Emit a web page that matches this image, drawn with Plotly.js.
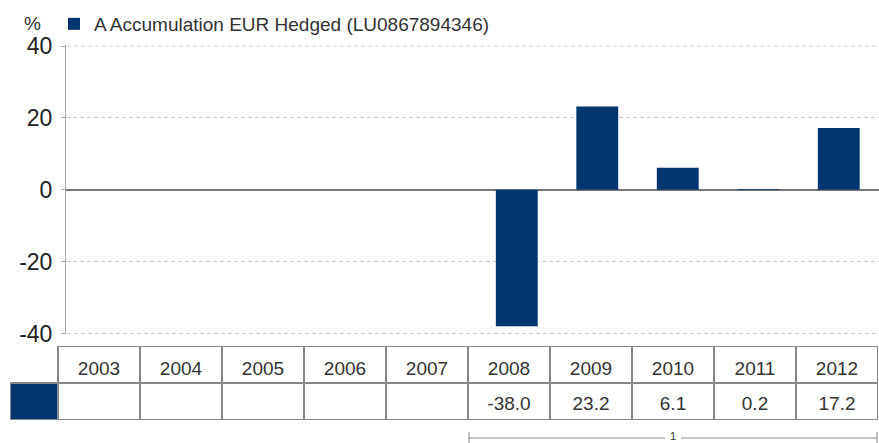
<!DOCTYPE html>
<html>
<head>
<meta charset="utf-8">
<script src="https://cdn.plot.ly/plotly-3.0.1.min.js"></script>
<style>html,body{margin:0;padding:0;background:#fff;}#chart{width:879px;height:443px;}</style>
</head>
<body>
<div id="chart"></div>
<script>
// ---- data ----
const years = ['2003','2004','2005','2006','2007','2008','2009','2010','2011','2012'];
const returns = [null, null, null, null, null, -38.0, 23.2, 6.1, 0.2, 17.2];
const seriesName = 'A Accumulation EUR Hedged (LU0867894346)';
const yTicks = [-40, -20, 0, 20, 40];
const periodLabel = '1';

const NAVY = '#00366f';
const TXT = '#333333';
const BORDER = '#888888';
const GRID = '#cccccc';
const FONT = 'Liberation Sans, Arial, sans-serif';
const W = 879, H = 443;
const px = v => v / W;
const py = v => 1 - v / H;

// bar chart
const barTrace = {
  type: 'bar',
  x: years,
  y: returns,
  name: seriesName,
  marker: {color: NAVY, line: {width: 0}},
  width: 0.52,
  xaxis: 'x', yaxis: 'y',
  hoverinfo: 'x+y'
};

// table drawn on its own cartesian subplot (x2/y2): one column unit per year,
// the leading legend-swatch column is narrower.
const n = years.length;
const swatchW = 48 / 82;
const valueStrings = returns.map(v => v == null ? '' : v.toFixed(1));
const colCenters = years.map((_, i) => i + 0.5);

const headerText = {
  type: 'scatter', mode: 'text',
  x: colCenters, y: years.map(() => 1.35),
  text: years,
  textposition: 'middle center',
  textfont: {family: FONT, size: 19, color: TXT},
  xaxis: 'x2', yaxis: 'y2', showlegend: false, hoverinfo: 'skip'
};
const valueText = {
  type: 'scatter', mode: 'text',
  x: colCenters, y: years.map(() => 0.4),
  text: valueStrings,
  textposition: 'middle center',
  textfont: {family: FONT, size: 19, color: TXT},
  xaxis: 'x2', yaxis: 'y2', showlegend: false, hoverinfo: 'skip'
};

const tableShapes = [];
// swatch cell
tableShapes.push({type: 'rect', xref: 'x2', yref: 'y2', x0: -swatchW, x1: 0, y0: 0, y1: 1,
  fillcolor: NAVY, line: {width: 0}, layer: 'below'});
// horizontal rules
tableShapes.push({type: 'line', xref: 'x2', yref: 'y2', x0: 0, x1: n, y0: 2, y1: 2, line: {color: BORDER, width: 2}});
[1, 0].forEach(r => tableShapes.push({type: 'line', xref: 'x2', yref: 'y2', x0: -swatchW, x1: n, y0: r, y1: r,
  line: {color: BORDER, width: 2}}));
// vertical rules
tableShapes.push({type: 'line', xref: 'x2', yref: 'y2', x0: -swatchW, x1: -swatchW, y0: 0, y1: 1, line: {color: BORDER, width: 2}});
for (let i = 0; i <= n; i++) {
  tableShapes.push({type: 'line', xref: 'x2', yref: 'y2', x0: i, x1: i, y0: 0, y1: 2, line: {color: BORDER, width: 2}});
}

// dashed grid lines at the range ends (Plotly skips grid at the axis edges)
const edgeGrid = [yTicks[0], yTicks[yTicks.length - 1]].map(v => ({
  type: 'line', xref: 'paper', yref: 'y', x0: px(67), x1: 1, y0: v, y1: v,
  line: {color: GRID, width: 1, dash: '4px,3px'}, layer: 'below'
}));

const layout = {
  width: W, height: H,
  margin: {l: 0, r: 0, t: 0, b: 0},
  paper_bgcolor: '#ffffff',
  plot_bgcolor: '#ffffff',
  font: {family: FONT, color: TXT},
  showlegend: true,
  legend: {
    orientation: 'h',
    x: px(54), xanchor: 'left',
    y: py(24), yanchor: 'middle',
    font: {family: FONT, size: 19, color: TXT},
    bgcolor: 'rgba(0,0,0,0)'
  },
  xaxis: {
    domain: [px(66), 1],
    type: 'category',
    range: [-0.6, 9.5],
    showticklabels: false,
    showgrid: false,
    zeroline: false,
    showline: false,
    ticks: '',
    fixedrange: true
  },
  yaxis: {
    domain: [py(334.2), py(45.3)],
    range: [-40.2, 40.2],
    tickvals: yTicks,
    ticktext: yTicks.map(String),
    showgrid: true,
    gridcolor: GRID,
    griddash: '4px,3px',
    gridwidth: 1,
    zeroline: true,
    zerolinecolor: '#777777',
    zerolinewidth: 2,
    showline: true,
    linecolor: '#aaaaaa',
    linewidth: 1,
    ticks: 'outside',
    ticklen: 4,
    tickcolor: '#aaaaaa',
    tickfont: {family: FONT, size: 23, color: '#222222'},
    ticklabelstandoff: 4,
    fixedrange: true
  },
  xaxis2: {
    domain: [px(10), px(878)],
    range: [-swatchW, n],
    visible: false, fixedrange: true,
    anchor: 'y2'
  },
  yaxis2: {
    domain: [py(420), py(346)],
    range: [0, 2],
    visible: false, fixedrange: true,
    anchor: 'x2'
  },
  annotations: [
    {xref: 'paper', yref: 'paper', x: px(22), y: py(24), xanchor: 'left', yanchor: 'middle',
     text: '%', showarrow: false, font: {family: FONT, size: 19, color: TXT}},
    {xref: 'paper', yref: 'paper', x: px(673), y: 0, xanchor: 'center', yanchor: 'bottom',
     text: periodLabel, showarrow: false, borderpad: 0,
     font: {family: FONT, size: 11, color: TXT}}
  ],
  shapes: edgeGrid.concat(tableShapes, [
    {type: 'line', xref: 'paper', yref: 'paper', x0: px(469), x1: px(665), y0: py(438), y1: py(438),
     line: {color: BORDER, width: 1}},
    {type: 'line', xref: 'paper', yref: 'paper', x0: px(681), x1: px(877), y0: py(438), y1: py(438),
     line: {color: BORDER, width: 1}},
    {type: 'line', xref: 'paper', yref: 'paper', x0: px(469), x1: px(469), y0: py(432), y1: py(443),
     line: {color: BORDER, width: 1}},
    {type: 'line', xref: 'paper', yref: 'paper', x0: px(877), x1: px(877), y0: py(432), y1: py(443),
     line: {color: BORDER, width: 1}}
  ])
};

Plotly.newPlot('chart', [barTrace, headerText, valueText], layout, {displayModeBar: false, staticPlot: true});
</script>
</body>
</html>
